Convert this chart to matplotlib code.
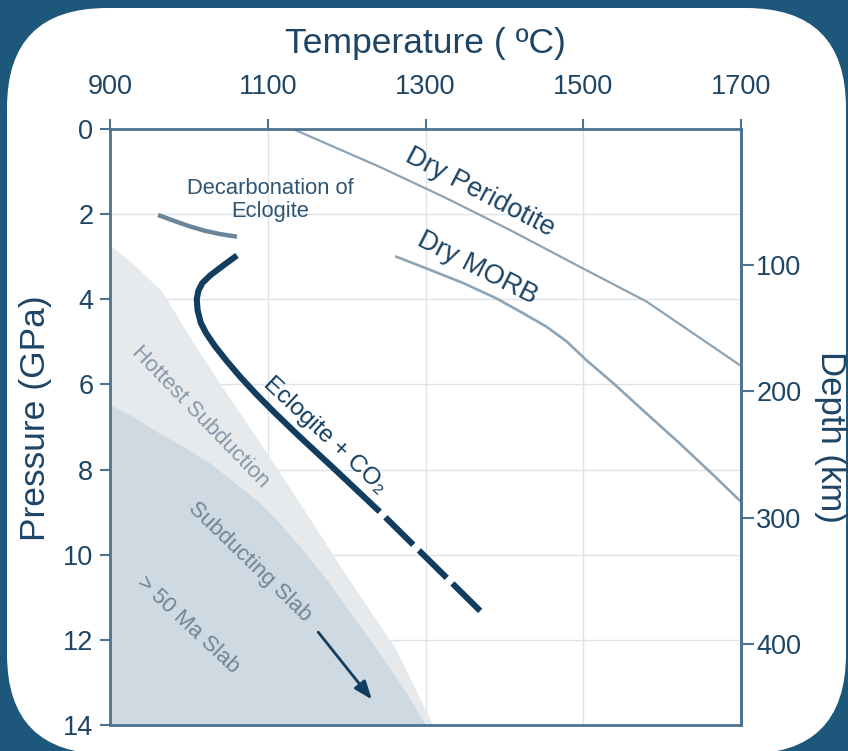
import numpy as np
import matplotlib
matplotlib.use('Agg')
import matplotlib.pyplot as plt
from matplotlib.patches import FancyBboxPatch

plt.rcParams['font.family'] = ['Liberation Sans', 'DejaVu Sans']

# temperature (C) / pressure (GPa)
perid_T = [1132, 1242, 1327, 1411, 1496, 1580, 1698]
perid_P = [0.0, 0.89, 1.63, 2.41, 3.24, 4.05, 5.54]

morb_T = [1263, 1306, 1348, 1390, 1424, 1453, 1479, 1504, 1538, 1580, 1622, 1665, 1698]
morb_P = [3.0, 3.31, 3.62, 3.98, 4.33, 4.64, 4.99, 5.43, 5.97, 6.68, 7.38, 8.13, 8.72]

decarb_T = [961, 980, 1000, 1020, 1040, 1061]
decarb_P = [2.02, 2.15, 2.28, 2.39, 2.47, 2.53]

eclog_T = [1061, 1044, 1027, 1017, 1012, 1010, 1011, 1015, 1022, 1033,
           1048, 1065, 1085, 1108, 1140, 1183, 1242]
eclog_P = [2.97, 3.20, 3.44, 3.62, 3.80, 4.00, 4.25, 4.55, 4.80, 5.10,
           5.45, 5.82, 6.22, 6.65, 7.22, 7.96, 8.99]
eclog_dash_T = [1242, 1371]
eclog_dash_P = [8.99, 11.35]

hot_P = [2.72, 3.16, 3.55, 3.82, 5.0, 6.0, 7.5, 9.0, 10.5, 12.2, 14.0]
hot_T = [900, 929, 951, 966, 1005, 1040, 1095, 1148, 1200, 1262, 1309]

slab_P = [6.48, 6.76, 7.15, 7.46, 7.85, 8.28, 8.72, 9.18, 9.81, 10.59,
          11.45, 12.32, 13.25, 14.0]
slab_T = [900, 930, 963, 993, 1027, 1056, 1086, 1111, 1141, 1175,
          1208, 1242, 1276, 1300]

temp_ticks = [900, 1100, 1300, 1500, 1700]
press_ticks = [0, 2, 4, 6, 8, 10, 12, 14]
depth_ticks = [100, 200, 300, 400]

navy = '#123d5f'
spine_c = '#4d7391'
txt_c = '#1e4565'

fig = plt.figure(figsize=(8.48, 7.51), dpi=100, facecolor='#1d577c')
panel = FancyBboxPatch((0.07, -0.03), 8.39, 7.46,
                       boxstyle='round,pad=0,rounding_size=1.0',
                       transform=fig.dpi_scale_trans, facecolor='white',
                       edgecolor='none', zorder=-10)
fig.patches.append(panel)

ax = fig.add_axes([110/848, 1-725/751, 631/848, 596/751], zorder=1)
ax.set_facecolor('white')
ax.set_xlim(900, 1700)
ax.set_ylim(14, 0)

ax.fill_betweenx(hot_P, 900, hot_T, color='#e6eaed', lw=0, zorder=1)
ax.fill_betweenx(slab_P, 900, slab_T, color='#cfd9e1', lw=0, zorder=1)

ax.plot(perid_T, perid_P, color='#8ea3b4', lw=1.6, zorder=3)
ax.plot(morb_T, morb_P, color='#8ea3b4', lw=1.9, zorder=3)
ax.plot(decarb_T, decarb_P, color='#6d8598', lw=3.2, solid_capstyle='butt', zorder=3)
ax.plot(eclog_T, eclog_P, color=navy, lw=4.4, solid_capstyle='butt',
        solid_joinstyle='round', zorder=4)
# dashed continuation starts with a gap
ax.plot(eclog_dash_T, eclog_dash_P, color=navy, lw=4.4,
        linestyle=(6.4, (6.4, 1.3)), dash_capstyle='butt', zorder=4)

ax.annotate('', xy=(1232, 13.4), xytext=(1164, 11.82),
            arrowprops=dict(arrowstyle='-|>,head_length=1.1,head_width=0.42',
                            color=navy, lw=2, shrinkA=0, shrinkB=0), zorder=5)

kw = dict(ha='center', va='center', rotation_mode='anchor', zorder=6)
ax.text(1369, 1.5, 'Dry Peridotite', fontsize=19.5, rotation=-27.5, color=txt_c, **kw)
ax.text(1366, 3.27, 'Dry MORB', fontsize=19.5, rotation=-27, color=txt_c, **kw)
ax.text(1103, 1.67, 'Decarbonation of\nEclogite', fontsize=15.8, color='#2d5573',
        linespacing=1.1, **kw)
ax.text(1172, 7.2, 'Eclogite + CO₂', fontsize=17.5, rotation=-43, color=navy, **kw)
ax.text(1014, 6.77, 'Hottest Subduction', fontsize=16, rotation=-46, color='#8898a8', **kw)
ax.text(1077, 10.17, 'Subducting Slab', fontsize=16, rotation=-44, color='#6f8599', **kw)
ax.text(999, 11.65, '> 50 Ma Slab', fontsize=16, rotation=-43, color='#6f8599', **kw)

ax.xaxis.tick_top()
ax.xaxis.set_label_position('top')
ax.set_xticks(temp_ticks)
ax.set_yticks(press_ticks)
ax.grid(True, color='#dfe3e7', lw=1, zorder=0)
ax.set_axisbelow(True)
for s in ax.spines.values():
    s.set_color(spine_c)
    s.set_linewidth(2)
    s.set_zorder(7)
ax.tick_params(axis='x', which='both', top=True, bottom=False, direction='out',
               length=7, width=1.5, color=spine_c, labelsize=19.5, labelcolor=txt_c, pad=14)
ax.tick_params(axis='y', direction='out', length=7, width=1.5, color=spine_c,
               labelsize=19.5, labelcolor=txt_c, pad=5)
ax.set_xlabel('Temperature ( ºC)', fontsize=25.5, color=txt_c, labelpad=15)
ax.set_ylabel('Pressure (GPa)', fontsize=25.5, color=txt_c)
ax.yaxis.label.set_va('center')
ax.yaxis.set_label_coords(36/848, 1-418/751, transform=fig.transFigure)


def depth_to_p(d):
    return 0.22 + 0.0297 * np.asarray(d)


def p_to_depth(p):
    return (np.asarray(p) - 0.22) / 0.0297


sec = ax.secondary_yaxis('right', functions=(p_to_depth, depth_to_p))
sec.set_yticks(depth_ticks)
sec.spines['right'].set_color(spine_c)
sec.spines['right'].set_linewidth(2)
sec.tick_params(direction='out', length=9, width=1.5, color=spine_c,
                labelsize=19.5, labelcolor=txt_c, pad=2)
sec.set_ylabel('Depth (km)', fontsize=25, color=txt_c, rotation=-90)
sec.yaxis.label.set_va('center')
sec.yaxis.set_label_coords(830/848, 1-437/751, transform=fig.transFigure)

fig.savefig('out.png', dpi=100, facecolor=fig.get_facecolor())
